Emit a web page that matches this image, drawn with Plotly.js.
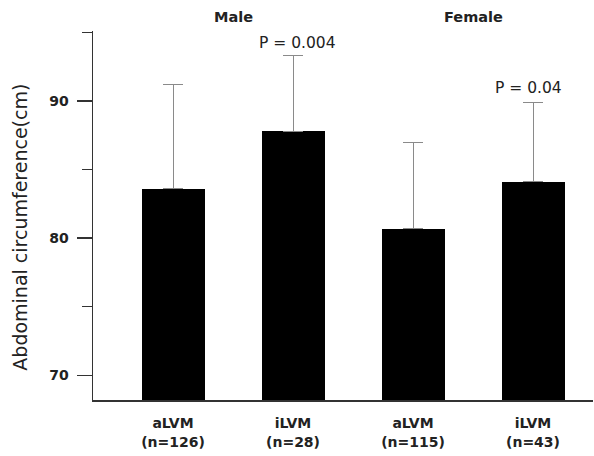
<!DOCTYPE html>
<html>
<head>
<meta charset="utf-8">
<script src="https://cdn.plot.ly/plotly-3.0.1.min.js"></script>
<style>html,body{margin:0;padding:0;background:#fff;}#chart{width:594px;height:456px;}</style>
</head>
<body>
<div id="chart"></div>
<script>
// Data
const groups = ["aLVM", "iLVM", "aLVM", "iLVM"];
const counts = ["(n=126)", "(n=28)", "(n=115)", "(n=43)"];
const means = [83.6, 87.8, 80.7, 84.1];
const sdUpper = [7.6, 5.5, 6.3, 5.8];
const sexLabels = ["Male", "Female"];
const pLabels = ["P = 0.004", "P = 0.04"];
const yTitle = "Abdominal circumference(cm)";
const yTickVals = [70, 80, 90];
const yMinorVals = [75, 85, 95];

const xPos = groups.map((_, i) => i);
const tickText = groups.map((g, i) => "<b>" + g + "</b><br><b>" + counts[i] + "</b>");

const trace = {
  type: "bar",
  x: xPos,
  y: means,
  width: 0.525,
  marker: {color: "#000000", line: {width: 0}},
  error_y: {
    type: "data",
    symmetric: false,
    array: sdUpper,
    arrayminus: means.map(() => 0),
    color: "#8a8a8a",
    thickness: 1,
    width: 10
  },
  hoverinfo: "skip"
};

const font = "'DejaVu Sans', Verdana, sans-serif";
const ink = "#222222";
const axisColor = "#333333";

const layout = {
  width: 594,
  height: 456,
  margin: {l: 93, r: 1, t: 31, b: 56},
  paper_bgcolor: "#ffffff",
  plot_bgcolor: "#ffffff",
  showlegend: false,
  bargap: 0,
  font: {family: font, color: ink},
  xaxis: {
    range: [-0.667, 3.5],
    tickvals: xPos,
    ticktext: tickText,
    ticks: "",
    ticklabelstandoff: 10,
    showline: true,
    linecolor: axisColor,
    linewidth: 1.5,
    showgrid: false,
    zeroline: false,
    tickfont: {size: 14, family: font, color: ink},
    fixedrange: true
  },
  yaxis: {
    range: [68.2, 95.1],
    tickvals: yTickVals,
    ticktext: yTickVals.map(v => "<b>" + v + "</b>"),
    ticks: "outside",
    ticklen: 15,
    tickwidth: 1.5,
    tickcolor: axisColor,
    ticklabelstandoff: 5,
    minor: {tickvals: yMinorVals.slice(0, 2), ticks: "outside", ticklen: 10, tickwidth: 1.5, tickcolor: axisColor},
    showline: true,
    linecolor: axisColor,
    linewidth: 1.5,
    showgrid: false,
    zeroline: false,
    tickfont: {size: 14, family: font, color: ink},
    fixedrange: true
  },
  // second, overlaid y axis only to draw the short end tick at 95
  yaxis2: {
    overlaying: "y",
    side: "left",
    anchor: "x",
    range: [68.2, 95.1],
    tickvals: [yMinorVals[2]],
    ticktext: [""],
    ticks: "outside",
    ticklen: 10,
    tickwidth: 1.5,
    tickcolor: axisColor,
    showline: false,
    showgrid: false,
    zeroline: false,
    showticklabels: false,
    fixedrange: true
  },
  annotations: [
    {text: yTitle, textangle: -90, xref: "paper", yref: "paper", x: 0, y: 0.467, xanchor: "center", yanchor: "middle", xshift: -73, showarrow: false, font: {size: 19, family: font, color: ink}},
    {text: "<b>" + sexLabels[0] + "</b>", x: 0.5, y: 95, xref: "x", yref: "y", xanchor: "center", yanchor: "bottom", yshift: 5, showarrow: false, font: {size: 14.5, family: font, color: ink}},
    {text: "<b>" + sexLabels[1] + "</b>", x: 2.5, y: 95, xref: "x", yref: "y", xanchor: "center", yanchor: "bottom", yshift: 5, showarrow: false, font: {size: 14.5, family: font, color: ink}},
    {text: pLabels[0], x: 1, y: means[1] + sdUpper[1], xref: "x", yref: "y", xanchor: "center", yanchor: "bottom", yshift: 2, xshift: 4, showarrow: false, font: {size: 15.5, family: font, color: ink}},
    {text: pLabels[1], x: 3, y: means[3] + sdUpper[3], xref: "x", yref: "y", xanchor: "center", yanchor: "bottom", yshift: 3, xshift: -5, showarrow: false, font: {size: 15.5, family: font, color: ink}}
  ]
};

const helper = {type: "scatter", mode: "markers", x: [xPos[0]], y: [means[0]], yaxis: "y2", marker: {opacity: 0}, hoverinfo: "skip", showlegend: false};

Plotly.newPlot("chart", [trace, helper], layout, {displayModeBar: false, staticPlot: true});
</script>
</body>
</html>
